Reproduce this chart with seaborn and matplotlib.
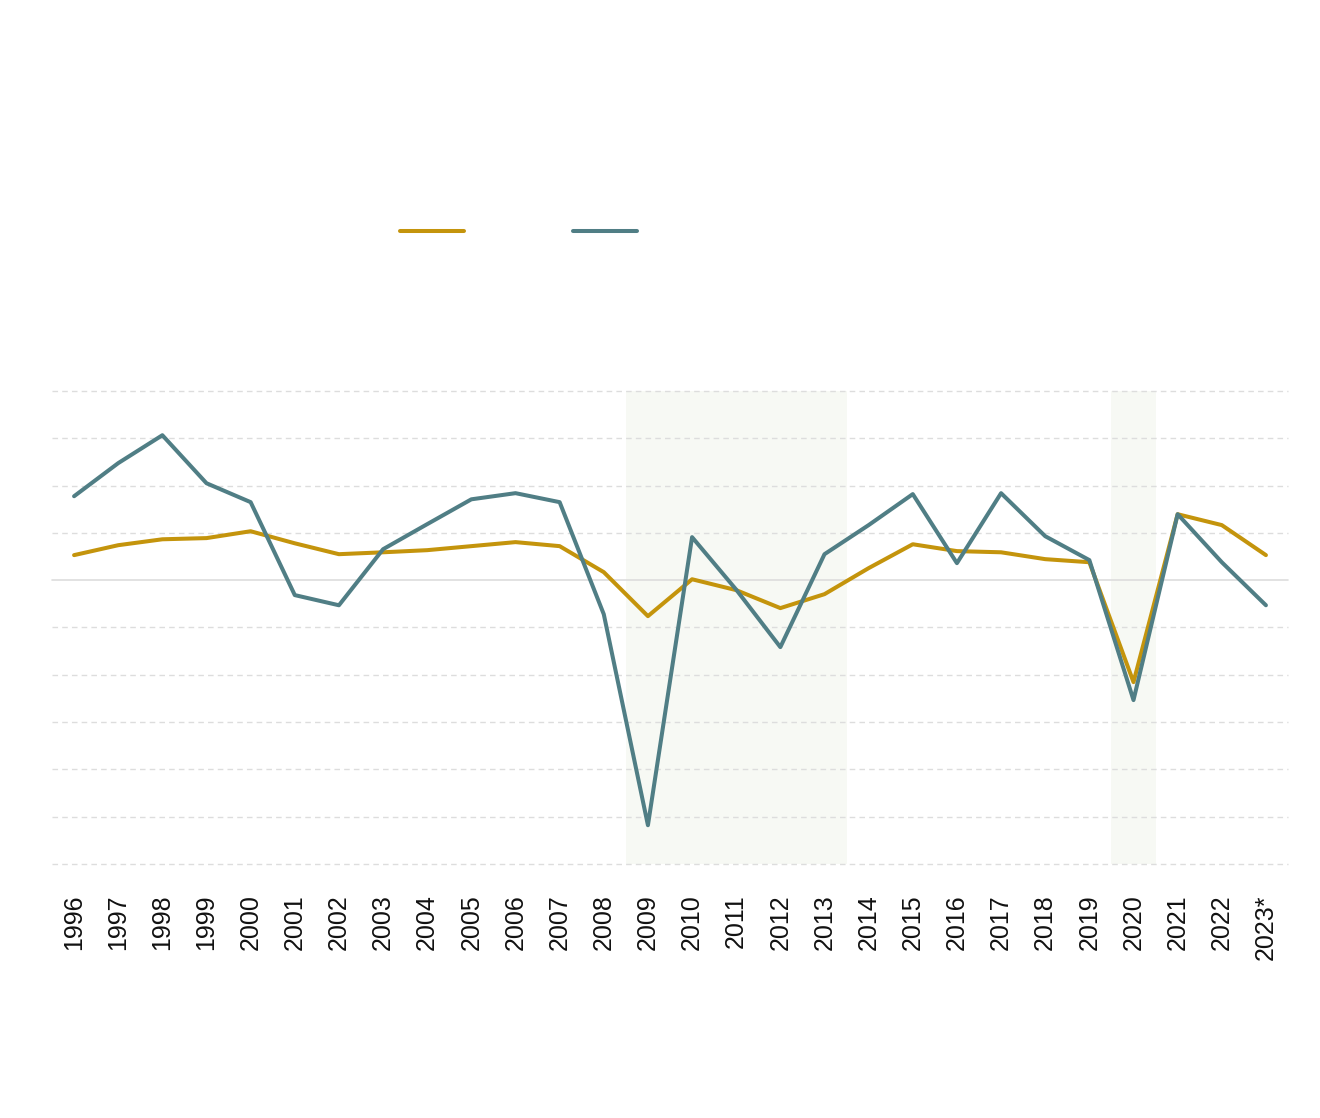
# plot.py
#
# Two annual growth series, 1996-2023*, with shaded crisis periods.
# Output: out.png (1320x1118)

import numpy as np
import pandas as pd
import matplotlib
matplotlib.use("Agg")   # headless
import matplotlib.pyplot as plt
import seaborn as sns

# ── Data ──────────────────────────────────────────────────────────────────────
YEARS = list(range(1996, 2024))
YEAR_LABELS = [str(y) for y in range(1996, 2023)] + ["2023*"]

SERIES_A = [1.06, 1.48, 1.73, 1.78, 2.07, 1.56, 1.10, 1.18, 1.27, 1.44,
            1.61, 1.44, 0.34, -1.52, 0.04, -0.42, -1.18, -0.59, 0.51, 1.52,
            1.23, 1.18, 0.89, 0.76, -4.31, 2.79, 2.33, 1.06]
SERIES_B = [3.55, 4.95, 6.13, 4.10, 3.30, -0.63, -1.06, 1.31, 2.37, 3.42,
            3.68, 3.30, -1.44, -10.36, 1.82, -0.40, -2.83, 1.10, 2.33, 3.64,
            0.72, 3.68, 1.86, 0.85, -5.07, 2.79, 0.76, -1.06]

SHADED_SPANS = [(2008.5, 2013.5), (2019.5, 2020.5)]
Y_TICKS = list(range(-12, 9, 2))

# ── Style ─────────────────────────────────────────────────────────────────────
COLOR_A    = "#C4940C"
COLOR_B    = "#507E85"
SHADE      = "#F7F9F4"
GRID_COLOR = "#DDDDDD"
LINE_W     = 2.9


def main():
    sns.set_theme(style="white")
    plt.rcParams["font.family"] = ["Liberation Sans", "DejaVu Sans"]

    df = pd.DataFrame({
        "year":   YEARS * 2,
        "value":  SERIES_A + SERIES_B,
        "series": ["A"] * len(YEARS) + ["B"] * len(YEARS),
    })

    fig = plt.figure(figsize=(13.2, 11.18), dpi=100)
    ax = fig.add_axes([52 / 1320, 1 - 864 / 1118, 1236 / 1320, 473 / 1118])

    # ── Shaded periods ────────────────────────────────────────────────────────
    for x0, x1 in SHADED_SPANS:
        ax.axvspan(x0, x1, color=SHADE, lw=0, zorder=0)

    # ── Grid ──────────────────────────────────────────────────────────────────
    for y in Y_TICKS:
        if y == 0:
            ax.axhline(y, color=GRID_COLOR, lw=1.2, ls="-", zorder=1, clip_on=False)
        else:
            ax.axhline(y, color=GRID_COLOR, lw=1.0, ls=(0, (4, 3)), zorder=1,
                       clip_on=False)

    # ── Lines ─────────────────────────────────────────────────────────────────
    sns.lineplot(
        data=df, x="year", y="value", hue="series",
        palette={"A": COLOR_A, "B": COLOR_B},
        linewidth=LINE_W, ax=ax, legend=False, zorder=3,
    )
    for line in ax.get_lines():
        line.set_solid_capstyle("round")
        line.set_solid_joinstyle("round")

    ax.set_xlim(1995.5, 2023.5)
    ax.set_ylim(-12, 8)
    ax.set_xticks(YEARS)
    ax.set_xticklabels(YEAR_LABELS, rotation=90, fontsize=18, color="#111111")
    ax.set_yticks([])
    ax.tick_params(axis="x", length=0, pad=22)
    ax.set_xlabel("")
    ax.set_ylabel("")
    sns.despine(ax=ax, left=True, bottom=True)

    # ── Legend (handles only) ─────────────────────────────────────────────────
    handles = [
        plt.Line2D([], [], color=COLOR_A, lw=LINE_W, solid_capstyle="round"),
        plt.Line2D([], [], color=COLOR_B, lw=LINE_W, solid_capstyle="round"),
    ]
    fig.legend(
        handles, ["", ""],
        loc="center", bbox_to_anchor=(524 / 1320, 1 - 232 / 1118),
        ncol=2, frameon=False, fontsize=10,
        handlelength=4.6, handletextpad=0.8, columnspacing=7.1,
    )

    fig.savefig("out.png", dpi=100)
    plt.close(fig)


if __name__ == "__main__":
    main()
